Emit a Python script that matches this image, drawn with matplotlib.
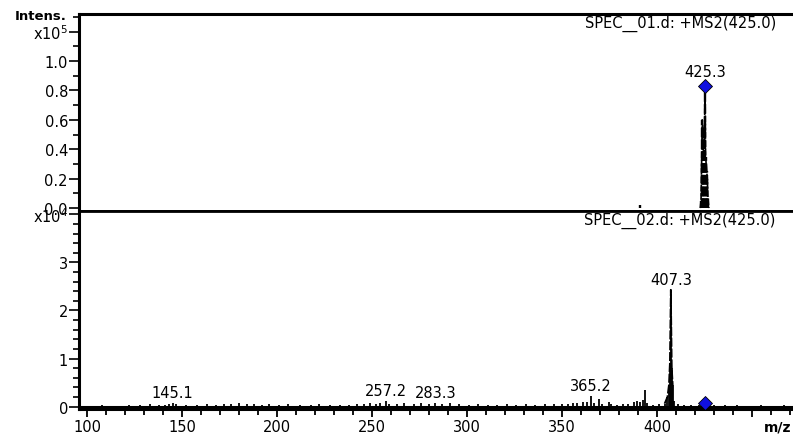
import matplotlib
matplotlib.use("Agg")
import matplotlib.pyplot as plt
from matplotlib.ticker import MultipleLocator, FixedLocator

plt.rcParams['font.family'] = ['DejaVu Sans']
plt.rcParams['mathtext.default'] = 'regular'

# ---------------- data ----------------
# top spectrum (x1e5), profile around precursor
top_mz = [390.8, 391.2, 422.8, 423.2, 423.5, 423.8, 424.1, 424.4, 424.7, 425.0,
          425.3, 425.6, 425.9, 426.2, 426.5, 426.8, 427.3]
top_int = [0.0, 0.02, 0.0, 0.05, 0.3, 0.6, 0.55, 0.4, 0.35, 0.5,
           0.83, 0.35, 0.3, 0.25, 0.2, 0.08, 0.0]
top_label_mz = [425.3]
top_label_int = [0.83]
top_precursor = 425.3

# bottom spectrum (x1e4)
bot_mz = [101, 108, 115, 122, 128, 133, 138, 141, 143, 145.1, 147, 152, 158, 163,
          168, 172, 176, 180, 184, 188, 192, 196, 201, 206, 212, 218, 222, 228,
          233, 238, 242, 246, 249, 252, 254, 257.2, 259, 263, 267, 272, 276, 280,
          283.3, 287, 291, 296, 301, 306, 311, 316, 321, 326, 331, 336, 341, 346,
          350, 353, 356, 358, 361, 363, 365.2, 367, 369.5, 371, 374.5, 376, 379,
          382, 385, 388, 389.5, 391, 392.5, 393.7, 395, 398, 401, 404, 405.5,
          406.3, 406.8, 407.3, 407.8, 408.3, 409, 411, 414, 418, 422, 430, 436,
          442, 448, 455, 461, 467]
bot_int = [0.02, 0.03, 0.02, 0.04, 0.03, 0.05, 0.03, 0.04, 0.05, 0.07, 0.05, 0.04,
           0.03, 0.05, 0.04, 0.06, 0.05, 0.07, 0.06, 0.05, 0.04, 0.05, 0.04, 0.05,
           0.03, 0.04, 0.05, 0.04, 0.03, 0.04, 0.05, 0.06, 0.07, 0.05, 0.08, 0.12,
           0.06, 0.05, 0.07, 0.06, 0.08, 0.05, 0.07, 0.06, 0.08, 0.05, 0.04, 0.05,
           0.04, 0.03, 0.05, 0.04, 0.05, 0.04, 0.06, 0.05, 0.05, 0.06, 0.08, 0.07,
           0.09, 0.10, 0.23, 0.08, 0.15, 0.06, 0.10, 0.05, 0.04, 0.06, 0.05, 0.09,
           0.12, 0.10, 0.14, 0.34, 0.07, 0.04, 0.05, 0.06, 0.20, 0.45, 0.9, 2.43,
           0.8, 0.45, 0.12, 0.05, 0.04, 0.03, 0.04, 0.03, 0.04, 0.03, 0.02, 0.03,
           0.02, 0.03]
bot_label_mz = [145.1, 257.2, 283.3, 365.2, 407.3]
bot_label_int = [0.07, 0.12, 0.07, 0.23, 2.43]
bot_precursor = 425.3
bot_precursor_int = 0.08

top_title = "SPEC__01.d: +MS2(425.0)"
bot_title = "SPEC__02.d: +MS2(425.0)"

# ---------------- figure ----------------
W, H = 793, 439
fig = plt.figure(figsize=(W / 100, H / 100), dpi=100)

def fx(px):
    return px / W

def fy(py):
    return 1 - py / H

FS = 10.5
left = fx(79)
right = fx(793)
ax1 = fig.add_axes([left, fy(212), right - left, fy(15) - fy(212)])
ax2 = fig.add_axes([left, fy(410), right - left, fy(212) - fy(410)])

xlim = (95.8, 471.6)
for ax in (ax1, ax2):
    ax.set_xlim(*xlim)
    ax.spines['right'].set_visible(False)
    for s in ('left', 'top', 'bottom'):
        ax.spines[s].set_linewidth(2.2)
    ax.tick_params(axis='y', which='major', length=7, width=1.2, labelsize=FS,
                   direction='out', pad=1)
    ax.tick_params(axis='y', which='minor', length=4.5, width=1.2, direction='out')

ax1.spines['bottom'].set_linewidth(2.0)
ax2.spines['top'].set_linewidth(2.0)

# top panel
ax1.set_ylim(-0.02, 1.32)
ax1.vlines(top_mz, 0, top_int, colors='black', linewidth=1.7, linestyles=(0, (4, 1)))
ax1.plot(top_mz[2:], top_int[2:], color='black', linewidth=1.2, linestyle=(0, (4, 1)))
ax1.plot([top_precursor], [0.83], marker='D', markersize=7, color='#1010e0',
         markeredgecolor='black', markeredgewidth=0.6, linestyle='none', zorder=5)
for m, v in zip(top_label_mz, top_label_int):
    ax1.annotate(f"{m:.1f}", xy=(m, v), xytext=(0, 5), textcoords='offset points',
                 ha='center', va='bottom', fontsize=FS)
ax1.yaxis.set_major_locator(FixedLocator([0.0, 0.2, 0.4, 0.6, 0.8, 1.0, 1.2]))
ax1.set_yticklabels(['0.0', '0.2', '0.4', '0.6', '0.8', '1.0', r'x10$^5$'])
ax1.yaxis.set_minor_locator(MultipleLocator(0.1))
ax1.set_xticks([])
ax1.tick_params(axis='x', which='both', bottom=False, labelbottom=False)
ax1.text(0.976, 0.995, top_title, transform=ax1.transAxes, ha='right', va='top',
         fontsize=FS)
fig.text(fx(67), fy(16), "Intens.", ha='right', va='center', fontsize=9.5,
         fontweight='bold')

# bottom panel
ax2.set_ylim(-0.05, 4.07)
ax2.plot([xlim[0], xlim[1]], [0.0, 0.0], color='black', linewidth=2.2)
ax2.vlines(bot_mz, 0, bot_int, colors='black', linewidth=1.3)
ax2.plot(bot_mz[79:86], bot_int[79:86], color='black', linewidth=1.3,
         linestyle=(0, (5, 1)))
ax2.plot([bot_precursor], [bot_precursor_int], marker='D', markersize=7,
         color='#1010e0', markeredgecolor='black', markeredgewidth=0.6,
         linestyle='none', zorder=5)
for m, v in zip(bot_label_mz, bot_label_int):
    ax2.annotate(f"{m:.1f}", xy=(m, v), xytext=(0, 2), textcoords='offset points',
                 ha='center', va='bottom', fontsize=FS)
ax2.yaxis.set_major_locator(FixedLocator([0, 1, 2, 3, 4]))
ax2.set_yticklabels(['0', '1', '2', '3', r'x10$^4$'])
ax2.yaxis.set_minor_locator(MultipleLocator(0.2))
ax2.xaxis.set_major_locator(FixedLocator([100, 150, 200, 250, 300, 350, 400, 450]))
ax2.set_xticklabels(['100', '150', '200', '250', '300', '350', '400', ''])
ax2.xaxis.set_minor_locator(MultipleLocator(10))
ax2.tick_params(axis='x', which='major', length=6, width=1.3, labelsize=FS,
                direction='out', pad=1)
ax2.tick_params(axis='x', which='minor', length=4, width=1.3, direction='out')
ax2.text(0.998, -0.055, "m/z", transform=ax2.transAxes, ha='right', va='top',
         fontsize=FS - 0.5, fontweight='bold')
ax2.text(0.976, 0.995, bot_title, transform=ax2.transAxes, ha='right', va='top',
         fontsize=FS)

fig.savefig("out.png", dpi=100)
